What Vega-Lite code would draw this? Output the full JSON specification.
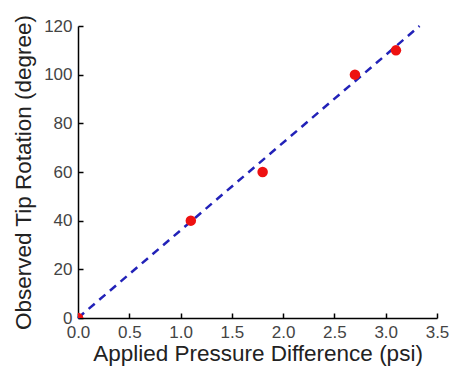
{
  "$schema": "https://vega.github.io/schema/vega-lite/v6.json",
  "autosize": "none",
  "padding": {"left": 78, "top": 26, "right": 16, "bottom": 54},
  "width": 359,
  "height": 292,
  "config": {
    "view": {"stroke": null},
    "axis": {
      "domainColor": "#000",
      "domainWidth": 1.5,
      "tickColor": "#000",
      "tickWidth": 1.5,
      "grid": false,
      "labelFont": "Liberation Sans",
      "titleFont": "Liberation Sans",
      "labelFontSize": 17,
      "labelColor": "#444",
      "titleFontSize": 22.5,
      "titleFontWeight": "normal",
      "titleColor": "#222"
    }
  },
  "datasets": {
    "pts": [
      {"p": 0, "r": 0},
      {"p": 1.1, "r": 40},
      {"p": 1.8, "r": 60},
      {"p": 2.7, "r": 100},
      {"p": 3.1, "r": 110}
    ],
    "fit": [
      {"p": 0, "r": 0},
      {"p": 3.33, "r": 120}
    ]
  },
  "layer": [
    {
      "data": {"name": "fit"},
      "mark": {"type": "line", "color": "#2222b8", "strokeWidth": 2.5, "strokeDash": [8, 6]},
      "encoding": {
        "x": {
          "field": "p", "type": "quantitative",
          "scale": {"domain": [0, 3.5], "nice": false},
          "title": "Applied Pressure Difference (psi)",
          "axis": {
            "values": [0, 0.25, 0.5, 0.75, 1, 1.25, 1.5, 1.75, 2, 2.25, 2.5, 2.75, 3, 3.25, 3.5],
            "labelExpr": "abs(datum.value*2 - round(datum.value*2)) < 0.001 ? format(datum.value, '.1f') : ''",
            "tickSize": {"condition": {"test": "abs(datum.value*2 - round(datum.value*2)) < 0.001", "value": -5}, "value": -3},
            "labelPadding": 11,
            "titlePadding": 2,
            "labelFlush": false,
            "labelOverlap": false
          }
        },
        "y": {
          "field": "r", "type": "quantitative",
          "scale": {"domain": [0, 120], "nice": false},
          "title": "Observed Tip Rotation (degree)",
          "axis": {
            "values": [0, 10, 20, 30, 40, 50, 60, 70, 80, 90, 100, 110, 120],
            "labelExpr": "datum.value % 20 === 0 ? datum.value : ''",
            "tickSize": {"condition": {"test": "datum.value % 20 === 0", "value": -5}, "value": -3},
            "labelPadding": 11,
            "titlePadding": 8,
            "labelFlush": false,
            "labelOverlap": false
          }
        }
      }
    },
    {
      "data": {"name": "pts"},
      "mark": {"type": "circle", "color": "#ee1111", "opacity": 1, "size": 110, "clip": true},
      "encoding": {
        "x": {"field": "p", "type": "quantitative"},
        "y": {"field": "r", "type": "quantitative"}
      }
    }
  ]
}
